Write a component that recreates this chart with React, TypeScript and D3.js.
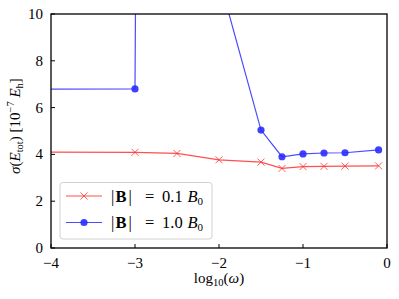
import React from 'react';
import * as d3 from 'd3';

// log10(omega) positions and sigma(E_tot) in 1e-7 E_h
const xRed = [-5, -3, -2.5, -2, -1.5, -1.25, -1, -0.75, -0.5, -0.1];
const yRed = [4.1, 4.09, 4.04, 3.77, 3.67, 3.4, 3.48, 3.49, 3.5, 3.51];
const xBlue = [-5, -3, -2.5, -2, -1.5, -1.25, -1, -0.75, -0.5, -0.1];
const yBlue = [6.78, 6.8, 300, 11.55, 5.04, 3.9, 4.02, 4.06, 4.07, 4.19];
const xTicks = [-4, -3, -2, -1, 0];
const yTicks = [0, 2, 4, 6, 8, 10];
const legendLabels = ['0.1', '1.0'];

const W = 399, H = 299;
const box = { left: 51, right: 387, top: 14, bottom: 248 };
const font = "'Liberation Serif', 'DejaVu Serif', serif";

export default function App() {
  const x = d3.scaleLinear().domain([-4, 0]).range([box.left, box.right]);
  const y = d3.scaleLinear().domain([0, 10]).range([box.bottom, box.top]);
  const line = d3.line<[number, number]>().x(d => x(d[0])).y(d => y(d[1]));
  const red: [number, number][] = xRed.map((v, i) => [v, yRed[i]]);
  const blue: [number, number][] = xBlue.map((v, i) => [v, yBlue[i]]);
  const redC = '#ff3030';
  const blueC = '#2b2bff';
  const inside = (p: [number, number]) => p[0] >= -4 && p[0] <= 0 && p[1] >= 0 && p[1] <= 10;

  const cross = (cx: number, cy: number, k: string) => (
    <path key={k} d={`M${cx - 3.5},${cy - 3.5}L${cx + 3.5},${cy + 3.5}M${cx - 3.5},${cy + 3.5}L${cx + 3.5},${cy - 3.5}`}
      stroke={redC} strokeWidth={1} fill="none" opacity={0.8} />
  );

  return (
    <svg width={W} height={H} style={{ position: 'absolute', left: 0, top: 0, background: 'white' }} fontFamily={font}>
      <defs>
        <clipPath id="plot">
          <rect x={box.left} y={box.top} width={box.right - box.left} height={box.bottom - box.top} />
        </clipPath>
      </defs>
      <g clipPath="url(#plot)">
        <path d={line(red) ?? ''} fill="none" stroke={redC} strokeWidth={1.2} opacity={0.85} />
        {red.filter(inside).map((p, i) => cross(x(p[0]), y(p[1]), 'r' + i))}
        <path d={line(blue) ?? ''} fill="none" stroke={blueC} strokeWidth={1.2} opacity={0.85} />
        {blue.filter(inside).map((p, i) => (
          <circle key={'b' + i} cx={x(p[0])} cy={y(p[1])} r={3.6} fill={blueC} opacity={0.9} />
        ))}
      </g>
      <rect x={box.left} y={box.top} width={box.right - box.left} height={box.bottom - box.top}
        fill="none" stroke="black" strokeWidth={1.3} />
      {xTicks.map(t => (
        <g key={'x' + t}>
          <line x1={x(t)} x2={x(t)} y1={box.bottom} y2={box.bottom - 4} stroke="black" strokeWidth={1} />
          <text x={x(t)} y={268} fontSize={15} textAnchor="middle">{t < 0 ? '\u2212' + Math.abs(t) : t}</text>
        </g>
      ))}
      {yTicks.map(t => (
        <g key={'y' + t}>
          <line x1={box.left} x2={box.left + 4} y1={y(t)} y2={y(t)} stroke="black" strokeWidth={1} />
          <text x={43} y={y(t) + 5} fontSize={15} textAnchor="end">{t}</text>
        </g>
      ))}
      <text x={(box.left + box.right) / 2} y={283} fontSize={15} textAnchor="middle">
        log<tspan fontSize={10.5} dy={3}>10</tspan><tspan dy={-3}>(</tspan><tspan fontStyle="italic">ω</tspan>)
      </text>
      <text transform={`translate(20,${(box.top + box.bottom) / 2 - 5}) rotate(-90)`} fontSize={15} textAnchor="middle">
        <tspan fontStyle="italic">σ</tspan>(<tspan fontStyle="italic">E</tspan><tspan fontSize={10.5} dy={3}>tot</tspan><tspan dy={-3}>) [10</tspan><tspan fontSize={10.5} dy={-6}>−7</tspan><tspan dy={6}> </tspan><tspan fontStyle="italic">E</tspan><tspan fontSize={10.5} dy={3}>h</tspan><tspan dy={-3}>]</tspan>
      </text>
      <g>
        <rect x={60} y={182.5} width={152} height={56.5} rx={3} fill="white" fillOpacity={0.8} stroke="#d0d0d0" strokeWidth={1} />
        {legendLabels.map((lab, i) => {
          const cy = i === 0 ? 196 : 222.5;
          const c = i === 0 ? redC : blueC;
          return (
            <g key={lab}>
              <line x1={66} x2={102} y1={cy} y2={cy} stroke={c} strokeWidth={1.2} opacity={0.85} />
              {i === 0 ? cross(84, cy, 'lr') : <circle cx={84} cy={cy} r={3.6} fill={blueC} opacity={0.9} />}
              <text y={cy + 5.5} fontSize={16.5}>
                <tspan x={111}>|</tspan>
                <tspan x={115.5} fontWeight="bold">B</tspan>
                <tspan x={128.5}>|</tspan>
                <tspan x={145}>=</tspan>
                <tspan x={162}>{lab}</tspan>
                <tspan x={187.5} fontStyle="italic">B</tspan><tspan fontSize={11} dy={3}>0</tspan>
              </text>
            </g>
          );
        })}
      </g>
    </svg>
  );
}
